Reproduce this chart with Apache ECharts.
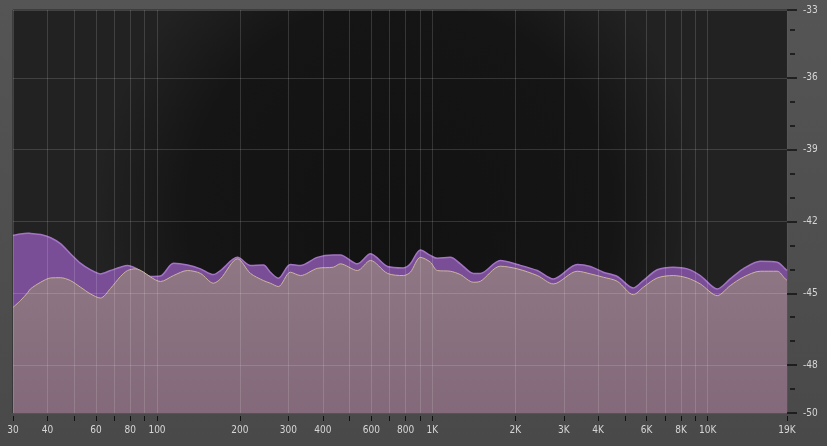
<!DOCTYPE html>
<html>
<head>
<meta charset="utf-8">
<script src="https://cdn.jsdelivr.net/npm/echarts@6/dist/echarts.min.js"></script>
<style>
html,body{margin:0;padding:0;background:#4c4c4c;}
#chart{width:827px;height:446px;}
</style>
</head>
<body>
<div id="chart"></div>
<script>
// Frequencies (Hz) of the sampled spectrum points
var freqs = [30, 31.9, 33.9, 34.7, 37.8, 41.1, 44.6, 48.5, 52.8, 57.4, 62.3, 67.8, 73.7, 78.2, 83.6, 89,
  94.7, 103, 114.8, 129, 143.8, 160.3, 170, 196, 218.5, 243.5, 258, 276, 305, 332, 382, 437, 463, 534, 596,
  687, 785, 832, 905, 983, 1042, 1162, 1264, 1409, 1494, 1765, 2035, 2405, 2749, 3360, 3746, 4175, 4694,
  5365, 5834, 6557, 7496, 8425, 9393, 10828, 12069, 13455, 15510, 17880, 19110, 19400];
// Peak / max spectrum (purple), dB
var peakDb = [-42.59, -42.52, -42.49, -42.50, -42.55, -42.68, -42.93, -43.35, -43.75, -44.02, -44.19, -44.05,
  -43.91, -43.84, -43.95, -44.15, -44.30, -44.28, -43.75, -43.82, -43.98, -44.22, -44.05, -43.50, -43.84,
  -43.82, -44.12, -44.37, -43.80, -43.84, -43.50, -43.40, -43.40, -43.77, -43.35, -43.88, -43.94, -43.77,
  -43.19, -43.42, -43.54, -43.50, -43.77, -44.17, -44.17, -43.63, -43.80, -44.05, -44.40, -43.80, -43.88,
  -44.12, -44.30, -44.78, -44.47, -44.02, -43.91, -43.98, -44.26, -44.82, -44.40, -43.98, -43.66, -43.70,
  -43.98, -44.05];
// Average spectrum (pink), dB
var avgDb = [-45.59, -45.31, -44.98, -44.82, -44.54, -44.36, -44.35, -44.47, -44.75, -45.03, -45.20, -44.80,
  -44.30, -44.05, -43.98, -44.10, -44.32, -44.51, -44.26, -44.05, -44.17, -44.58, -44.40, -43.56, -44.17,
  -44.47, -44.58, -44.72, -44.12, -44.26, -43.96, -43.91, -43.77, -44.05, -43.63, -44.17, -44.26, -44.12,
  -43.50, -43.70, -44.05, -44.08, -44.22, -44.54, -44.50, -43.87, -43.98, -44.26, -44.61, -44.08, -44.19,
  -44.33, -44.50, -45.06, -44.75, -44.36, -44.26, -44.36, -44.61, -45.10, -44.68, -44.33, -44.08, -44.08,
  -44.40, -44.45];
// Axis ticks
var gridFreqs = [30, 40, 50, 60, 70, 80, 90, 100, 200, 300, 400, 500, 600, 700, 800, 900,
  1000, 2000, 3000, 4000, 5000, 6000, 7000, 8000, 9000, 10000, 19400];
var labelFreqs = [30, 40, 60, 80, 100, 200, 300, 400, 600, 800, 1000, 2000, 3000, 4000, 6000, 8000, 10000, 19400];
var labelTexts = ['30', '40', '60', '80', '100', '200', '300', '400', '600', '800', '1K', '2K', '3K', '4K', '6K', '8K', '10K', '19K'];
var dbMin = -50, dbMax = -33.17;
var dbMajor = [-50, -48, -45, -42, -39, -36, -33.17];
var dbMinor = [-49, -47, -46, -44, -43, -41, -40, -38, -37, -35, -34];

var lg = function (f) { return Math.log10(f); };
var peakData = freqs.map(function (f, i) { return [lg(f), peakDb[i]]; });
var avgData = freqs.map(function (f, i) { return [lg(f), avgDb[i]]; });

var fontFam = '"Liberation Sans Narrow", "DejaVu Sans Condensed", "Liberation Sans", sans-serif';
var txtColor = '#d6d6d6';

var chart = echarts.init(document.getElementById('chart'), null, {renderer: 'canvas'});
chart.setOption({
  animation: false,
  backgroundColor: new echarts.graphic.LinearGradient(0, 0, 0, 1, [
    {offset: 0, color: '#555555'}, {offset: 1, color: '#494949'}]),
  grid: {
    left: 13, right: 40, top: 10, bottom: 33,
    show: true,
    borderColor: '#262626', borderWidth: 1,
    backgroundColor: new echarts.graphic.RadialGradient(0.5, 0.5, 0.75, [
      {offset: 0, color: '#121212'}, {offset: 0.7, color: '#151515'}, {offset: 1, color: '#222222'}])
  },
  xAxis: {
    type: 'value',
    min: lg(30), max: lg(19400),
    z: 5,
    offset: 3,
    axisLine: {show: false},
    axisTick: {show: true, length: 5, customValues: gridFreqs.map(lg),
      lineStyle: {color: '#111111', width: 1}},
    splitLine: {show: true, lineStyle: {color: 'rgba(255,255,255,0.14)', width: 1}},
    axisLabel: {
      customValues: labelFreqs.map(lg),
      margin: 9,
      color: txtColor, fontSize: 10, fontFamily: fontFam,
      formatter: function (v) {
        var best = 0, d = 1e9;
        for (var i = 0; i < labelFreqs.length; i++) {
          var dd = Math.abs(lg(labelFreqs[i]) - v);
          if (dd < d) { d = dd; best = i; }
        }
        return labelTexts[best];
      }
    }
  },
  yAxis: [{
    type: 'value', position: 'right',
    min: dbMin, max: dbMax,
    z: 5,
    axisLine: {show: false},
    axisTick: {show: true, inside: false, length: 10, customValues: dbMajor,
      lineStyle: {color: '#111111', width: 1.5}},
    splitLine: {show: true, lineStyle: {color: 'rgba(255,255,255,0.14)', width: 1}},
    axisLabel: {
      customValues: dbMajor,
      margin: 16,
      color: txtColor, fontSize: 10, fontFamily: fontFam,
      formatter: function (v) { return String(Math.round(v)); }
    }
  }, {
    type: 'value', position: 'right',
    min: dbMin, max: dbMax,
    offset: 3,
    z: 5,
    axisLine: {show: false},
    axisTick: {show: true, length: 5, customValues: dbMinor,
      lineStyle: {color: '#111111', width: 1.5}},
    splitLine: {show: false},
    axisLabel: {show: false}
  }],
  series: [{
    name: 'Peak',
    type: 'line',
    data: peakData,
    showSymbol: false,
    smooth: 0.3,
    z: 2,
    lineStyle: {color: '#a373c4', width: 1.5},
    areaStyle: {color: '#7a4e97', opacity: 1, origin: 'start'}
  }, {
    name: 'Average',
    type: 'line',
    data: avgData,
    showSymbol: false,
    smooth: 0.3,
    z: 3,
    lineStyle: {color: '#cbb69d', width: 1},
    areaStyle: {
      opacity: 1, origin: 'start',
      color: new echarts.graphic.LinearGradient(0, 0, 0, 1, [
        {offset: 0, color: '#8f7784'}, {offset: 1, color: '#83697a'}])
    }
  }]
});
</script>
</body>
</html>
